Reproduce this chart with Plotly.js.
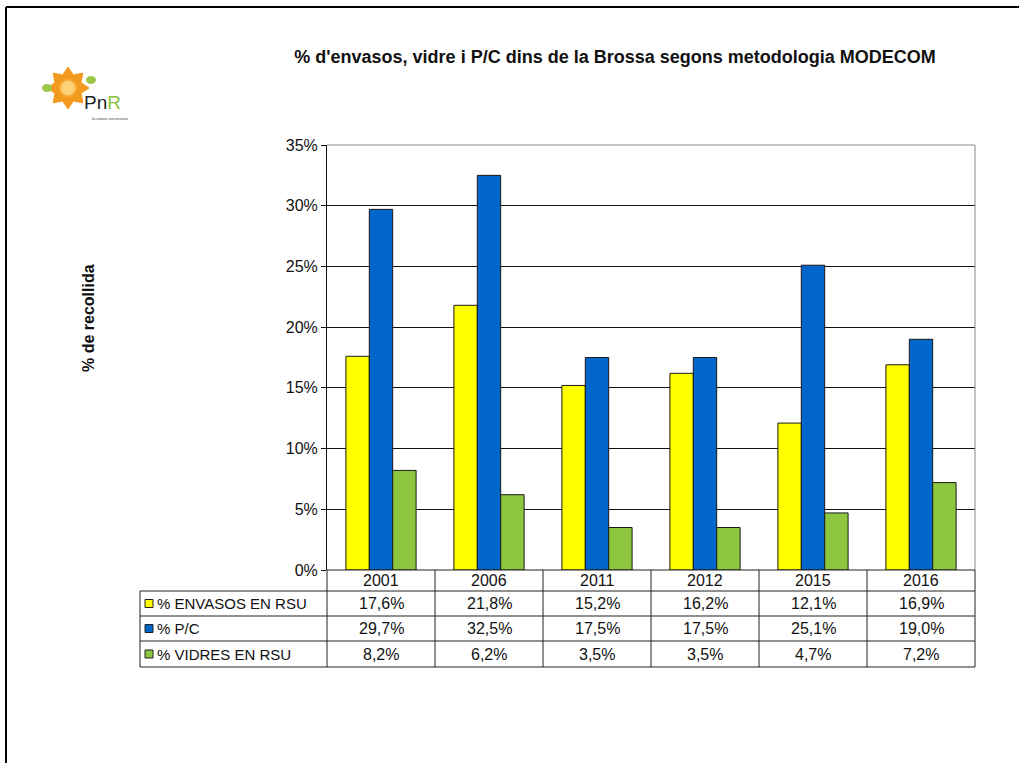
<!DOCTYPE html>
<html>
<head>
<meta charset="utf-8">
<script src="https://cdn.plot.ly/plotly-3.0.1.min.js"></script>
<style>html,body{margin:0;padding:0;background:#fff;}#chart{width:1019px;height:763px;}</style>
</head>
<body>
<div id="chart"></div>
<script>
const years = ['2001', '2006', '2011', '2012', '2015', '2016'];
const envasos = [17.6, 21.8, 15.2, 16.2, 12.1, 16.9];
const pc = [29.7, 32.5, 17.5, 17.5, 25.1, 19.0];
const vidres = [8.2, 6.2, 3.5, 3.5, 4.7, 7.2];
const seriesNames = ['% ENVASOS EN RSU', '% P/C', '% VIDRES EN RSU'];
const seriesColors = ['#FFFF00', '#0066CC', '#8DC63F'];
const titleText = "% d'envasos, vidre i P/C dins de la Brossa segons metodologia MODECOM";
const yTitle = '% de recollida';

const W = 1019, H = 763;
const L = 327, R = 975, T = 145, B = 570;
const px = x => (x - L) / (R - L);
const py = y => (B - y) / (B - T);
const FONT = 'Arial, "Liberation Sans", sans-serif';

const allSeries = [envasos, pc, vidres];
const traces = allSeries.map((vals, i) => ({
  type: 'bar', x: years, y: vals, name: seriesNames[i],
  marker: {color: seriesColors[i], line: {color: '#1a1a1a', width: 1}},
  hoverinfo: 'x+y'
}));

const rowLines = [570, 591, 616, 641, 667];
const shapes = [];
const annotations = [];
// plot frame (top and right gray)
shapes.push({type: 'line', xref: 'paper', yref: 'paper', x0: 0, x1: 1, y0: 1, y1: 1, line: {color: '#888', width: 1}});
shapes.push({type: 'line', xref: 'paper', yref: 'paper', x0: 1, x1: 1, y0: 0, y1: 1, line: {color: '#888', width: 1}});
// table horizontal lines
shapes.push({type: 'line', xref: 'paper', yref: 'paper', x0: 0, x1: 1, y0: py(rowLines[0]), y1: py(rowLines[0]), line: {color: '#222', width: 1}});
for (let r = 1; r < rowLines.length; r++) {
  shapes.push({type: 'line', xref: 'paper', yref: 'paper', x0: px(140), x1: 1, y0: py(rowLines[r]), y1: py(rowLines[r]), line: {color: '#222', width: 1}});
}
// table vertical lines
shapes.push({type: 'line', xref: 'paper', yref: 'paper', x0: px(140), x1: px(140), y0: py(rowLines[1]), y1: py(rowLines[4]), line: {color: '#222', width: 1}});
for (let c = 0; c <= years.length; c++) {
  const xx = c / years.length;
  shapes.push({type: 'line', xref: 'paper', yref: 'paper', x0: xx, x1: xx, y0: py(rowLines[0]), y1: py(rowLines[4]), line: {color: '#222', width: 1}});
}
// year labels (category index positions)
years.forEach((yr, c) => {
  annotations.push({xref: 'x', yref: 'paper', x: c, y: py((rowLines[0] + rowLines[1]) / 2), text: yr, showarrow: false,
    font: {family: FONT, size: 16, color: '#111'}, xanchor: 'center', yanchor: 'middle'});
});
// series rows
allSeries.forEach((vals, i) => {
  const yc = py((rowLines[i + 1] + rowLines[i + 2]) / 2);
  shapes.push({type: 'rect', xref: 'paper', yref: 'paper', x0: px(145), x1: px(153), y0: yc - 4 / 425, y1: yc + 4 / 425,
    fillcolor: seriesColors[i], line: {color: '#222', width: 1}});
  annotations.push({xref: 'paper', yref: 'paper', x: px(155), y: yc, text: seriesNames[i], showarrow: false,
    font: {family: FONT, size: 15, color: '#111'}, xanchor: 'left', yanchor: 'middle'});
  vals.forEach((v, c) => {
    annotations.push({xref: 'x', yref: 'paper', x: c, y: yc, text: v.toFixed(1).replace('.', ',') + '%', showarrow: false,
      font: {family: FONT, size: 16, color: '#111'}, xanchor: 'center', yanchor: 'middle'});
  });
});
// y axis title
annotations.push({xref: 'paper', yref: 'paper', x: px(88), y: py(318), text: '<b>' + yTitle + '</b>', textangle: -90, showarrow: false,
  font: {family: FONT, size: 16, color: '#111'}, xanchor: 'center', yanchor: 'middle'});
// outer border (top and left)
shapes.push({type: 'line', xref: 'paper', yref: 'paper', x0: px(6), x1: px(1019), y0: py(7), y1: py(7), line: {color: '#000', width: 2}});
shapes.push({type: 'line', xref: 'paper', yref: 'paper', x0: px(6), x1: px(6), y0: py(7), y1: py(763), line: {color: '#000', width: 2}});

// logo (approximate): sun + PnR
const cx = 68, cy = 88;
let petal = '';
for (let k = 0; k < 16; k++) {
  const a = k * Math.PI / 8;
  const rr = (k % 2 === 0) ? 21 : 14;
  const X = cx + rr * Math.cos(a), Y = cy + rr * Math.sin(a);
  petal += (k === 0 ? 'M ' : ' L ') + px(X).toFixed(4) + ',' + py(Y).toFixed(4);
}
petal += ' Z';
shapes.push({type: 'path', xref: 'paper', yref: 'paper', path: petal, fillcolor: '#F39A1E', line: {color: '#F39A1E', width: 1}});
shapes.push({type: 'circle', xref: 'paper', yref: 'paper', x0: px(cx - 8), x1: px(cx + 8), y0: py(cy + 8), y1: py(cy - 8), fillcolor: '#FFD27A', line: {color: '#F7B040', width: 2}});
shapes.push({type: 'circle', xref: 'paper', yref: 'paper', x0: px(42), x1: px(52), y0: py(92), y1: py(84), fillcolor: '#9CC64A', line: {width: 0}});
shapes.push({type: 'circle', xref: 'paper', yref: 'paper', x0: px(86), x1: px(96), y0: py(84), y1: py(76), fillcolor: '#9CC64A', line: {width: 0}});
annotations.push({xref: 'paper', yref: 'paper', x: px(82), y: py(103), text: 'Pn<span style="color:#8DBF3A">R</span>', showarrow: false,
  font: {family: FONT, size: 19, color: '#222'}, xanchor: 'left', yanchor: 'middle'});
annotations.push({xref: 'paper', yref: 'paper', x: px(110), y: py(118), text: 'la natura necessària', showarrow: false,
  font: {family: FONT, size: 4, color: '#444'}, xanchor: 'center', yanchor: 'middle'});

const layout = {
  width: W, height: H,
  margin: {l: L, r: W - R, t: T, b: H - B, pad: 0},
  paper_bgcolor: '#fff', plot_bgcolor: '#fff',
  title: {text: '<b>' + titleText + '</b>', font: {family: FONT, size: 18, color: '#111'}, x: px(615), xanchor: 'center', y: 1 - 57 / H, yanchor: 'middle', xref: 'paper'},
  showlegend: false,
  barmode: 'group', bargap: 0.35, bargroupgap: 0,
  xaxis: {type: 'category', range: [-0.5, years.length - 0.5], autorange: false, showticklabels: false, showgrid: false, zeroline: false, ticks: '', showline: false, fixedrange: true},
  yaxis: {range: [0, 35], autorange: false, dtick: 5, ticksuffix: '%', showgrid: true, gridcolor: '#111', gridwidth: 1, zeroline: false,
    showline: true, linecolor: '#111', linewidth: 1, ticks: 'outside', ticklen: 5, tickcolor: '#111',
    tickfont: {family: FONT, size: 16, color: '#111'}, fixedrange: true},
  shapes: shapes,
  annotations: annotations,
  font: {family: FONT}
};
Plotly.newPlot('chart', traces, layout, {displayModeBar: false, staticPlot: true});
</script>
</body>
</html>
